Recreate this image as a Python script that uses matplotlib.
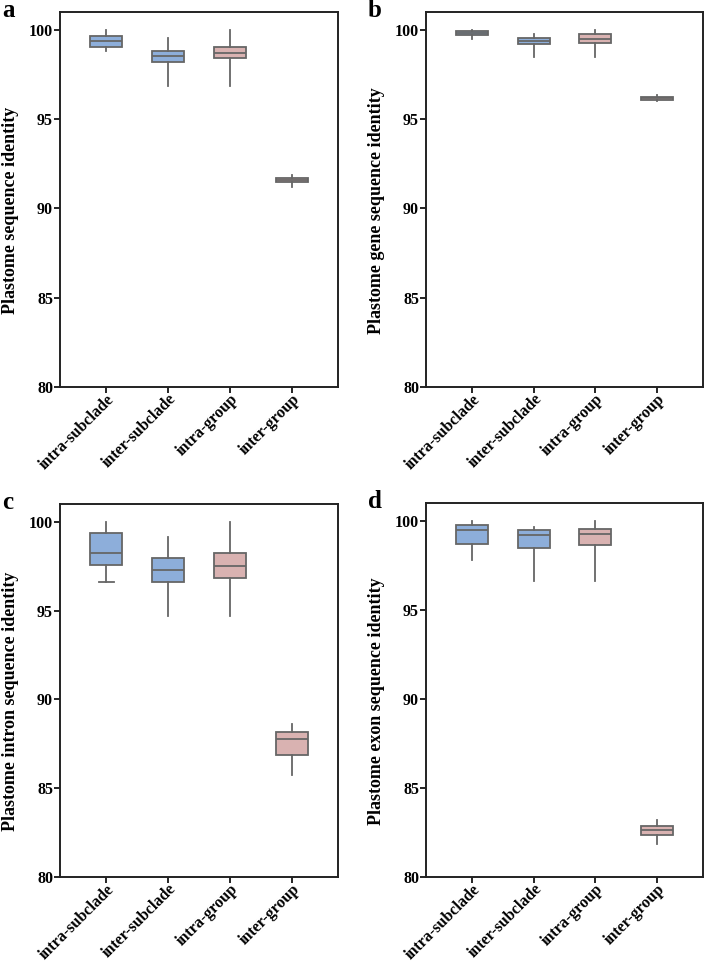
import matplotlib
matplotlib.use("Agg")
import matplotlib.pyplot as plt

plt.rcParams["font.family"] = ["Liberation Serif", "DejaVu Serif"]
plt.rcParams["font.weight"] = "bold"

groups = ["intra-subclade", "inter-subclade", "intra-group", "inter-group"]
colors = ["#8DAEDA", "#8DAEDA", "#D9B2B1", "#D9B2B1"]

# box stats per panel: lower whisker, q1, median, q3, upper whisker
a_lo = [98.84, 96.85, 96.85, 91.20]
a_q1 = [99.03, 98.20, 98.41, 91.46]
a_med = [99.40, 98.54, 98.73, 91.59]
a_q3 = [99.66, 98.84, 99.03, 91.72]
a_hi = [100.0, 99.57, 100.0, 91.85]

b_lo = [99.49, 98.50, 98.50, 96.01]
b_q1 = [99.74, 99.23, 99.25, 96.10]
b_med = [99.83, 99.38, 99.49, 96.18]
b_q3 = [99.91, 99.53, 99.78, 96.25]
b_hi = [100.0, 99.79, 100.0, 96.35]

c_lo = [96.59, 94.69, 94.69, 85.74]
c_q1 = [97.55, 96.61, 96.84, 86.85]
c_med = [98.23, 97.29, 97.49, 87.76]
c_q3 = [99.36, 97.97, 98.25, 88.14]
c_hi = [100.0, 99.15, 100.0, 88.59]

d_lo = [97.81, 96.61, 96.61, 81.84]
d_q1 = [98.67, 98.48, 98.63, 82.38]
d_med = [99.46, 99.21, 99.25, 82.64]
d_q3 = [99.74, 99.48, 99.53, 82.88]
d_hi = [100.0, 99.68, 100.0, 83.20]

panels = [
    ("a", "Plastome sequence identity", (a_lo, a_q1, a_med, a_q3, a_hi)),
    ("b", "Plastome gene sequence identity", (b_lo, b_q1, b_med, b_q3, b_hi)),
    ("c", "Plastome intron sequence identity", (c_lo, c_q1, c_med, c_q3, c_hi)),
    ("d", "Plastome exon sequence identity", (d_lo, d_q1, d_med, d_q3, d_hi)),
]

W, H = 708, 965
fig = plt.figure(figsize=(W / 100, H / 100), dpi=100)
# axes boxes in pixels: left, top, right, bottom
boxes = [(60, 12, 338, 387), (426, 12, 703, 387),
         (60, 504, 338, 877), (426, 503, 703, 877)]

edge = "#666666"
for (letter, ylabel, st), (l, t, r, b) in zip(panels, boxes):
    ax = fig.add_axes([l / W, 1 - b / H, (r - l) / W, (b - t) / H])
    stats = [dict(whislo=lo, q1=q1, med=md, q3=q3, whishi=hi, fliers=[])
             for lo, q1, md, q3, hi in zip(*st)]
    res = ax.bxp(stats, positions=range(4), widths=0.52, patch_artist=True,
                 showfliers=False, capwidths=0.24,
                 boxprops=dict(edgecolor=edge, linewidth=1.3),
                 whiskerprops=dict(color=edge, linewidth=1.3),
                 capprops=dict(color=edge, linewidth=1.3),
                 medianprops=dict(color=edge, linewidth=1.3))
    for patch, c in zip(res["boxes"], colors):
        patch.set_facecolor(c)
    for i, cap in enumerate(res["caps"]):
        # only the lower cap of intra-subclade in panel c is drawn
        cap.set_visible(letter == "c" and i == 0)
    ax.set_xlim(-0.75, 3.75)
    ax.set_ylim(80, 101)
    ax.set_yticks([80, 85, 90, 95, 100])
    ax.set_xticks(range(4))
    ax.set_xticklabels(groups, rotation=45, ha="right", rotation_mode="anchor",
                       fontsize=11.5, fontweight="bold")
    ax.tick_params(axis="y", labelsize=11.5, length=4, width=1.2, pad=1)
    ax.tick_params(axis="x", length=4, width=1.2, pad=-1)
    for s in ax.spines.values():
        s.set_linewidth(1.4)
        s.set_color("#222222")
    ax.set_ylabel(ylabel, fontsize=13, fontweight="bold")
    ax.yaxis.set_label_coords(-40.5 / (r - l), 0.47)
    fig.text((l - 58) / W, 1 - (t - 13) / H, letter, fontsize=18,
             fontweight="bold", va="top", ha="left")

fig.savefig("out.png")
